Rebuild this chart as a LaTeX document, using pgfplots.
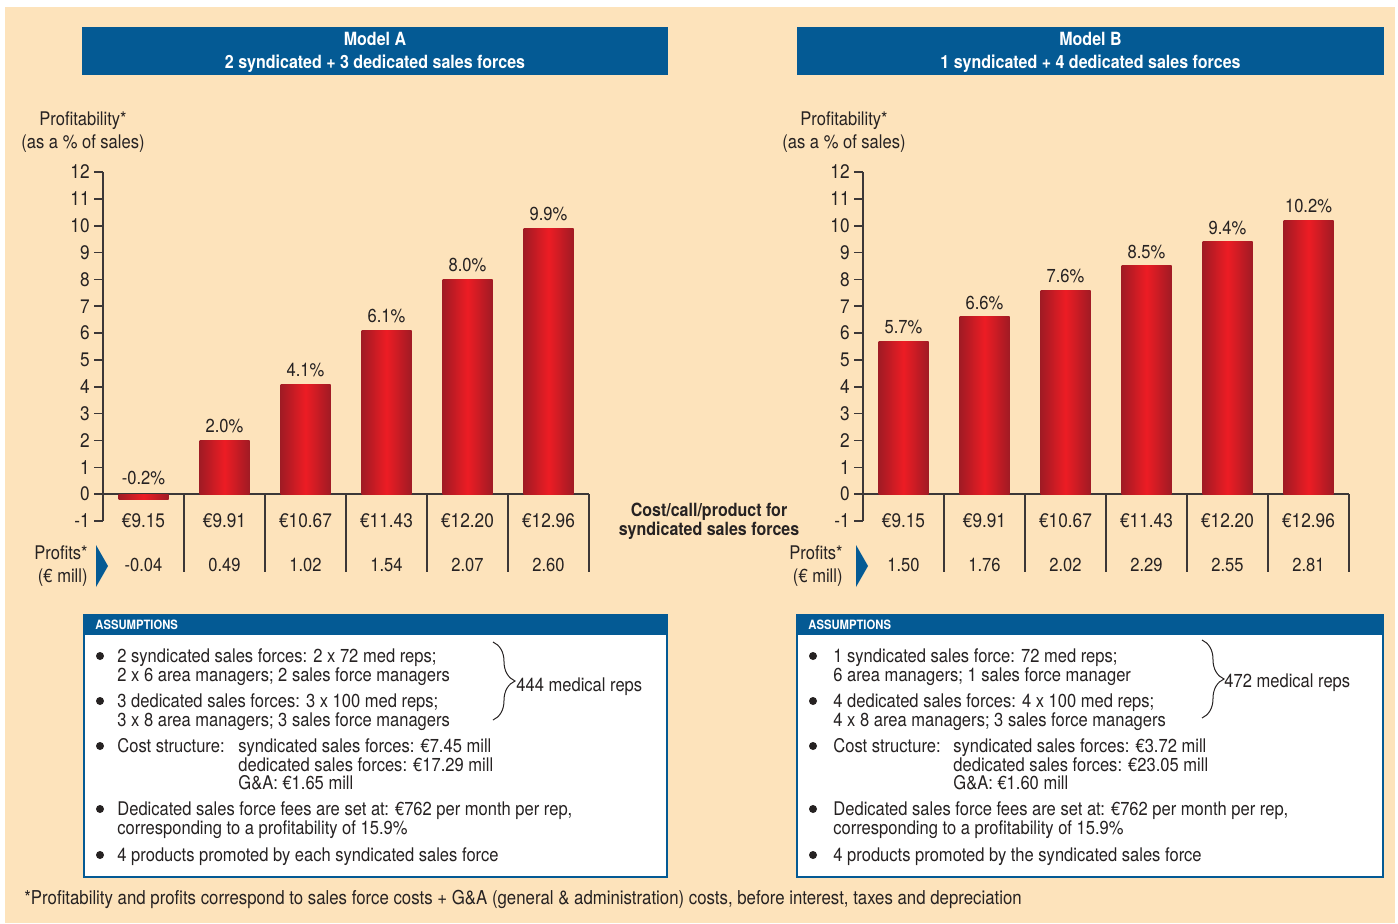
\documentclass[border=0pt]{standalone}
\usepackage{fontspec}
\setmainfont{TeX Gyre Heros}[FakeStretch=0.88]
\usepackage{pgfplots}
\pgfplotsset{compat=1.18}
\usepackage{pgfplotstable}
\usetikzlibrary{decorations.pathreplacing}
\definecolor{peach}{RGB}{253,227,187}
\definecolor{hdrblue}{RGB}{4,90,148}
\definecolor{bardark}{RGB}{160,27,36}
\definecolor{barred}{RGB}{237,28,36}
\definecolor{txt}{RGB}{38,34,34}
\definecolor{axisgray}{RGB}{60,55,55}
\newcommand\bfs{\fontsize{9.1}{10}\selectfont\bfseries}
\newcommand\bodyf{\fontsize{9.4}{10}\selectfont}
\newcommand\tickf{\fontsize{9.8}{10}\selectfont}
\newcommand\tl[3]{\node[anchor=base west,inner sep=0pt,font=\bodyf,text=txt] at (#1,#2) {#3};}
\newcommand\tr[3]{\node[anchor=base east,inner sep=0pt,font=\bodyf,text=txt] at (#1,#2) {#3};}
\newcommand\tc[3]{\node[anchor=base,inner sep=0pt,font=\bodyf,text=txt] at (#1,#2) {#3};}

\pgfplotstableread{
x    prof  cost    profit
0.5  -0.2  €9.15   -0.04
1.5  2.0   €9.91   0.49
2.5  4.1   €10.67  1.02
3.5  6.1   €11.43  1.54
4.5  8.0   €12.20  2.07
5.5  9.9   €12.96  2.60
}\tableA
\pgfplotstableread{
x    prof  cost    profit
0.5  5.7   €9.15   1.50
1.5  6.6   €9.91   1.76
2.5  7.6   €10.67  2.02
3.5  8.5   €11.43  2.29
4.5  9.4   €12.20  2.55
5.5  10.2  €12.96  2.81
}\tableB

\pgfplotsset{
  panel/.style={
    scale only axis, width=243pt, height=174.5pt,
    xmin=0, xmax=6, ymin=-1, ymax=12,
    axis y line=left, axis x line*=bottom,
    x axis line style={draw=none},
    y axis line style={-, draw=axisgray, line width=0.8pt},
    ytick={-1,0,...,12},
    xtick={0.5,1.5,...,5.5},
    xtick style={draw=none},
    ytick style={draw=axisgray, line width=0.8pt},
    tick align=outside,
    major tick length=4.5pt,
    yticklabel style={font=\tickf, text=txt, inner sep=2pt},
    xticklabel style={font=\tickf, text=txt, anchor=center, yshift=4.5pt},
    /pgf/number format/assume math mode=true,
    clip=false,
  },
  bars/.style={ybar, bar width=25pt, bar shift=0pt, draw=none,
    left color=bardark, right color=bardark, middle color=barred,
    point meta=y,
    nodes near coords={\pgfmathprintnumber[fixed,fixed zerofill,precision=1]{\pgfplotspointmeta}\%},
    nodes near coords align={anchor=south},
    visualization depends on={rawy \as \rawy},
    nodes near coords style={font=\bodyf, text=txt, inner sep=3.5pt,
      yshift={ifthenelse(\rawy<0,3.5,0)}}},
  profits/.style={draw=none, no markers,
    nodes near coords={\pgfplotspointmeta}, point meta=explicit symbolic,
    nodes near coords style={anchor=center, font=\bodyf, text=txt}},
}

\begin{document}
\begin{tikzpicture}
\begin{scope}[x=0.5pt,y=-0.5pt]
\fill[white] (0,0) rectangle (1398,923);
\fill[peach] (5,7) rectangle (1395,923);
% title boxes
\fill[hdrblue] (82,27) rectangle (668,75);
\fill[hdrblue] (797,27) rectangle (1384,75);
\node[anchor=base,inner sep=0pt,font=\bfs,text=white] at (375,45) {Model A};
\node[anchor=base,inner sep=0pt,font=\bfs,text=white] at (375,68) {2 syndicated + 3 dedicated sales forces};
\node[anchor=base,inner sep=0pt,font=\bfs,text=white] at (1090.5,45) {Model B};
\node[anchor=base,inner sep=0pt,font=\bfs,text=white] at (1090.5,68) {1 syndicated + 4 dedicated sales forces};
% y labels
\tc{83}{125}{Profitability*}
\tc{83}{148}{(as a \% of sales)}
\tc{844}{125}{Profitability*}
\tc{844}{148}{(as a \% of sales)}
% profits labels
\tr{88}{559}{Profits*}
\tr{88}{582}{(€ mill)}
\tr{843}{559}{Profits*}
\tr{843}{582}{(€ mill)}
\fill[hdrblue] (96,545) -- (108,566) -- (96,587) -- cycle;
\fill[hdrblue] (856,545) -- (868,566) -- (856,587) -- cycle;
% middle caption
\node[anchor=base,inner sep=0pt,font=\bfs,text=txt] at (709,516) {Cost/call/product for};
\node[anchor=base,inner sep=0pt,font=\bfs,text=txt] at (709,535) {syndicated sales forces};
% assumption boxes
\foreach \xa/\xb in {84/667, 797/1383}{
  \fill[white] (\xa,615) rectangle (\xb,877);
  \fill[hdrblue] (\xa,615) rectangle (\xb,635);
  \draw[hdrblue, line width=1pt] (\xa,615) rectangle (\xb,877);
  \node[anchor=base west,inner sep=0pt,font=\fontsize{6.4}{7}\selectfont\bfseries,text=white] at (\xa+11,629) {ASSUMPTIONS};
  \foreach \yy in {656,701,746,809,855}{
    \fill[txt] (\xa+16,\yy) circle[radius=2pt];
  }
}
% box A text
\tl{117}{662}{2 syndicated sales forces: 2 x 72 med reps;}
\tl{117}{681}{2 x 6 area managers; 2 sales force managers}
\tl{117}{707}{3 dedicated sales forces: 3 x 100 med reps;}
\tl{117}{726}{3 x 8 area managers; 3 sales force managers}
\tl{117}{752}{Cost structure:}
\tl{238}{752}{syndicated sales forces: €7.45 mill}
\tl{238}{771}{dedicated sales forces: €17.29 mill}
\tl{238}{789}{G\&A: €1.65 mill}
\tl{117}{815}{Dedicated sales force fees are set at: €762 per month per rep,}
\tl{117}{834}{corresponding to a profitability of 15.9\%}
\tl{117}{861}{4 products promoted by each syndicated sales force}
\draw[txt, line width=0.5pt, decorate, decoration={brace, amplitude=11pt}] (493,642) -- (493,720);
\tl{516}{691}{444 medical reps}
% box B text
\tl{833}{662}{1 syndicated sales force: 72 med reps;}
\tl{833}{681}{6 area managers; 1 sales force manager}
\tl{833}{707}{4 dedicated sales forces: 4 x 100 med reps;}
\tl{833}{726}{4 x 8 area managers; 3 sales force managers}
\tl{833}{752}{Cost structure:}
\tl{953}{752}{syndicated sales forces: €3.72 mill}
\tl{953}{771}{dedicated sales forces: €23.05 mill}
\tl{953}{789}{G\&A: €1.60 mill}
\tl{833}{815}{Dedicated sales force fees are set at: €762 per month per rep,}
\tl{833}{834}{corresponding to a profitability of 15.9\%}
\tl{833}{861}{4 products promoted by the syndicated sales force}
\draw[txt, line width=0.5pt, decorate, decoration={brace, amplitude=11pt}] (1202,640) -- (1202,718);
\tl{1224}{687}{472 medical reps}
% footnote
\node[anchor=base west,inner sep=0pt,font=\fontsize{9.55}{10}\selectfont,text=txt] at (24,904) {*Profitability and profits correspond to sales force costs + G\&A (general \& administration) costs, before interest, taxes and depreciation};
\end{scope}

\begin{axis}[panel, at={(51.5pt,-260.5pt)}, anchor=south west,
  xticklabels from table={\tableA}{cost}]
  \draw[axisgray, line width=0.8pt] (axis cs:0,0) -- (axis cs:6,0);
  \pgfplotsinvokeforeach{1,...,6}{\draw[axisgray, line width=0.8pt] (axis cs:#1,0) -- (axis cs:#1,-2.9);}
  \pgfplotsinvokeforeach{0,...,5}{
    \addplot[bars, restrict expr to domain={\coordindex}{#1:#1}] table[x=x, y=prof] {\tableA};
  }
  \addplot[profits] table[x=x, y expr=-2.646, meta=profit] {\tableA};
\end{axis}

\begin{axis}[panel, at={(431.5pt,-260.5pt)}, anchor=south west,
  xticklabels from table={\tableB}{cost}]
  \draw[axisgray, line width=0.8pt] (axis cs:0,0) -- (axis cs:6,0);
  \pgfplotsinvokeforeach{1,...,6}{\draw[axisgray, line width=0.8pt] (axis cs:#1,0) -- (axis cs:#1,-2.9);}
  \pgfplotsinvokeforeach{0,...,5}{
    \addplot[bars, restrict expr to domain={\coordindex}{#1:#1}] table[x=x, y=prof] {\tableB};
  }
  \addplot[profits] table[x=x, y expr=-2.646, meta=profit] {\tableB};
\end{axis}
\end{tikzpicture}
\end{document}
